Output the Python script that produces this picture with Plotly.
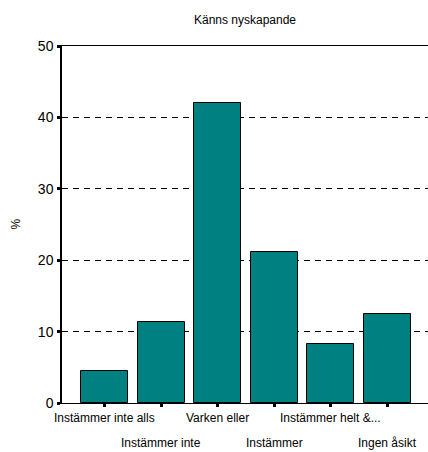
import plotly.graph_objects as go

categories = ["Instämmer inte alls", "Instämmer inte", "Varken eller",
              "Instämmer", "Instämmer helt &...", "Ingen åsikt"]
values = [4.5, 11.3, 42.0, 21.1, 8.2, 12.4]
y_ticks = [0, 10, 20, 30, 40, 50]

x_idx = list(range(len(categories)))

W, H = 428, 452
ML, MR, MT, MB = 62, 0, 46, 49

fig = go.Figure()
fig.add_trace(go.Bar(
    x=x_idx, y=values, width=0.83,
    marker=dict(color="#008080", line=dict(color="#000000", width=1)),
    showlegend=False,
))

FAM = "Liberation Sans, Arial, sans-serif"
font = dict(family=FAM, size=12, color="#000000")

annotations = []
for i, c in enumerate(categories):
    annotations.append(dict(
        x=i, y=0, xref="x", yref="paper", text=c, showarrow=False,
        xanchor="center", yanchor="middle", yshift=-15 if i % 2 == 0 else -40,
        font=font,
    ))
annotations.append(dict(
    x=(15 - ML) / (W - ML - MR), y=0.5, xref="paper", yref="paper",
    xanchor="center", yanchor="middle",
    text="%", textangle=-90, showarrow=False, font=font,
))

fig.update_layout(
    width=W, height=H,
    margin=dict(l=ML, r=MR, t=MT, b=MB),
    paper_bgcolor="#ffffff", plot_bgcolor="#ffffff",
    font=font,
    title=dict(text="Känns nyskapande", x=245 / W, xanchor="center",
               y=1 - 20 / H, yanchor="middle", automargin=False,
               font=dict(family=FAM, size=12, color="#000000")),
    xaxis=dict(range=[-0.76, 5.72], tickvals=x_idx, ticktext=[""] * len(categories),
               showline=True, linecolor="#000000", linewidth=1, mirror=True,
               ticks="outside", ticklen=3, tickwidth=3, tickcolor="#000000",
               showgrid=False, zeroline=False, fixedrange=True, automargin=False),
    yaxis=dict(range=[0, 50], tickvals=y_ticks, ticktext=[str(v) for v in y_ticks],
               showline=True, linecolor="#000000", linewidth=1.5,
               ticks="outside", ticklen=3, tickwidth=3, tickcolor="#000000",
               showgrid=True, gridcolor="#000000", griddash="6px,5px", gridwidth=1,
               zeroline=False, automargin=False, ticklabelstandoff=1,
               tickfont=dict(family=FAM, size=14)),
    annotations=annotations,
    bargap=0,
)

fig.write_html("out.html", post_script="document.body.style.margin='0';",
               config={"displayModeBar": False})
